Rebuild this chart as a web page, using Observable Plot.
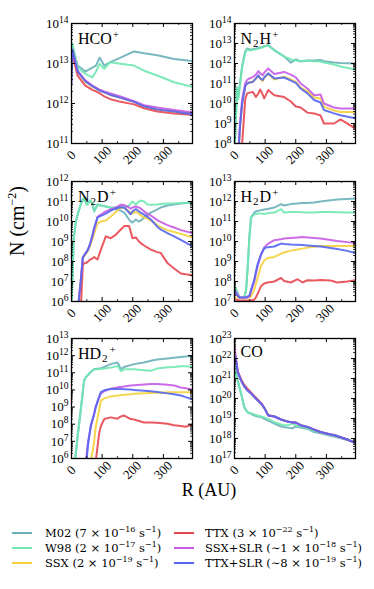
<!DOCTYPE html>
<html><head><meta charset="utf-8">
<script src="https://cdn.jsdelivr.net/npm/d3@7"></script>
<script src="https://cdn.jsdelivr.net/npm/@observablehq/plot@0.6"></script>
<style>
body{margin:0;background:#fff;}
#fig{position:relative;width:374px;height:589px;font-family:"Liberation Serif","DejaVu Serif",serif;color:#000;overflow:hidden;background:#fff;}
.panel{position:absolute;}
.plabel{position:absolute;font-size:16px;line-height:1;white-space:nowrap;}
.plabel sub{font-size:11px;vertical-align:-3px;margin:0 1px;}
.plabel sup{font-size:11px;vertical-align:6px;margin-left:1px;}
.xtick{position:absolute;font-size:13px;line-height:1;white-space:nowrap;transform:translate(-50%,-50%) rotate(-45deg);}
.ytitle{position:absolute;left:17px;top:221px;transform:translate(-50%,-50%) rotate(-90deg);font-size:20px;white-space:nowrap;}
.ytitle sup{font-size:12px;vertical-align:8px;}
.xtitle{position:absolute;left:209px;top:490px;transform:translate(-50%,-50%);font-size:18px;white-space:nowrap;}
.leg{position:absolute;font-family:"DejaVu Serif",serif;font-size:11.5px;white-space:nowrap;line-height:1;}
.leg sup{font-size:8px;vertical-align:5px;}
.sw{position:absolute;height:2.5px;width:20px;}
</style></head><body><div id="fig"></div>
<script>
// ---------- data ----------
const seriesNames = ["M02","W98","SSX","TTX","SSX+SLR","TTX+SLR"];
const seriesColors = ["#6aafba","#6fe8b1","#f5d23c","#e8464f","#c75be6","#5566ee"];
const legendLabels = [
  "M02 (7 × 10<sup>−16</sup> s<sup>−1</sup>)",
  "W98 (2 × 10<sup>−17</sup> s<sup>−1</sup>)",
  "SSX (2 × 10<sup>−19</sup> s<sup>−1</sup>)",
  "TTX (3 × 10<sup>−22</sup> s<sup>−1</sup>)",
  "SSX+SLR (∼1 × 10<sup>−18</sup> s<sup>−1</sup>)",
  "TTX+SLR (∼8 × 10<sup>−19</sup> s<sup>−1</sup>)"
];
const xDomain = [0, 395];
const xTicks = [0, 100, 200, 300];
const xMinorTicks = [50, 150, 250, 350];

// HCO+
const hcoR = [0, 3, 20, 45, 68, 80, 92, 107, 125, 160, 204, 237, 280, 335, 395];
const hcoM02 = [1.6e13, 2.5e13, 8.9e12, 6.3e12, 7.9e12, 8.9e12, 1.4e13, 8.9e12, 1.07e13, 1.4e13, 2.0e13, 1.8e13, 1.6e13, 1.3e13, 1.15e13];
const hcoW98 = [2.0e13, 3.2e13, 7.9e12, 5.5e12, 4.5e12, 6.3e12, 9.8e12, 7.4e12, 1.07e13, 9.8e12, 8.9e12, 6.6e12, 5.0e12, 3.4e12, 2.6e12];
const hcoSSX = [1.26e13, 2.0e13, 6.3e12, 3.5e12, 2.6e12, 2.4e12, 2.1e12, 1.9e12, 1.66e12, 1.38e12, 1.1e12, 8.5e11, 7.1e11, 6.3e11, 5.6e11];
const hcoTTX = [1.0e13, 1.6e13, 5.0e12, 2.8e12, 2.2e12, 2.0e12, 1.8e12, 1.5e12, 1.3e12, 1.1e12, 9.5e11, 7.6e11, 6.3e11, 5.6e11, 5.2e11];
const hcoSSXSLR = [1.26e13, 2.2e13, 6.6e12, 3.8e12, 2.8e12, 2.5e12, 2.2e12, 2.0e12, 1.8e12, 1.5e12, 1.15e12, 9.1e11, 7.9e11, 6.9e11, 6.0e11];
const hcoTTXSLR = [3.2e12, 2.2e13, 6.3e12, 3.6e12, 2.7e12, 2.4e12, 2.1e12, 1.9e12, 1.66e12, 1.38e12, 1.1e12, 8.5e11, 7.1e11, 6.3e11, 5.4e11];

// N2H+
const n2hR = [0, 5, 8, 12, 18, 25, 35, 41, 49, 60, 70, 78, 84, 92, 97, 110, 130, 162, 184, 200, 216, 238, 260, 281, 292, 325, 346, 395];
const n2hM02 = [3e7, 3e9, 6.3e10, 2e10, 1e11, 7.9e11, 4e12, 5.6e12, 5e12, 5.2e12, 5.6e12, 6e12, 6.3e12, 6.8e12, 7.4e12, 8.3e12, 4.7e12, 2.3e12, 1.1e12, 1.6e12, 1.26e12, 1.4e12, 1.4e12, 1.5e12, 1.3e12, 1.12e12, 1.05e12, 1e12];
const n2hW98 = [3e7, 2e9, 6.3e10, 1.6e10, 7.9e10, 6.3e11, 3.5e12, 5e12, 4.5e12, 4.8e12, 5.2e12, 5.6e12, 6e12, 6.3e12, 7.1e12, 7.9e12, 4.5e12, 2.2e12, 1.6e12, 1.4e12, 1.35e12, 1.4e12, 1.3e12, 1.26e12, 1.12e12, 8.9e11, 7.1e11, 5e11];
const n2hSSX = [1e5, 1e5, 1e6, 2e7, 6.3e8, 1e10, 7.1e10, 1e11, 1.12e11, 1.26e11, 1.8e11, 2.3e11, 1.8e11, 1.3e11, 2e11, 3e11, 1.6e11, 2.2e11, 1.6e11, 1.2e11, 6.3e10, 4e10, 2e10, 1.8e10, 6.8e9, 4.5e9, 3.8e9, 3.8e9];
const n2hTTX = [1e5, 1e5, 1e5, 1e5, 1e7, 1e8, 1.6e10, 3.2e10, 3.5e10, 3.8e10, 2.1e10, 3.2e10, 5e10, 2.8e10, 1.8e10, 4.7e10, 2.6e10, 2.1e10, 1.26e10, 7.1e9, 6.3e9, 3.5e9, 3.2e9, 2.5e9, 1e9, 1e9, 1.6e9, 5.6e8];
const n2hSSXSLR = [1e5, 1e5, 1e6, 3e7, 1e9, 1.6e10, 1e11, 1.5e11, 1.8e11, 2.1e11, 2.8e11, 4.2e11, 3.2e11, 2.6e11, 3.5e11, 5.6e11, 3e11, 3.8e11, 2.8e11, 2e11, 1e11, 5.6e10, 2.6e10, 2.8e10, 1e10, 6.3e9, 5.6e9, 5.6e9];
const n2hTTXSLR = [1e5, 1e5, 1e6, 2e7, 6.3e8, 1e10, 7.1e10, 1e11, 1.12e11, 1.2e11, 1.8e11, 2.6e11, 1.8e11, 1.5e11, 2e11, 3.2e11, 1.8e11, 2e11, 1.4e11, 1.07e11, 5.6e10, 3.2e10, 1.5e10, 1.12e10, 4.7e9, 3.2e9, 2.6e9, 1.8e9];

// N2D+
const n2dR = [0, 7, 14, 22, 30, 37, 41, 50, 54, 61, 68, 74, 85, 96, 112, 128, 145, 161, 172, 188, 193, 199, 210, 220, 226, 237, 248, 259, 280, 291, 313, 335, 357, 396];
const n2dM02 = [3.2e5, 1.26e9, 1e10, 2.8e10, 7.1e10, 1.26e11, 1.45e11, 7.1e10, 7.9e10, 1.12e11, 7.9e10, 3.2e10, 7.1e10, 6.3e10, 5.6e10, 4.9e10, 4e10, 3.5e10, 2.8e10, 1.26e10, 1e10, 8.9e9, 1.26e10, 1e10, 1.12e10, 1.6e10, 2.2e10, 2.8e10, 4e10, 5e10, 6.3e10, 7.1e10, 7.9e10, 8.9e10];
const n2dW98 = [3.2e5, 1.26e9, 1e10, 2.8e10, 7.1e10, 1.26e11, 1.45e11, 7.1e10, 7.9e10, 1.12e11, 7.9e10, 3.2e10, 7.1e10, 6.3e10, 5.6e10, 5e10, 5.2e10, 5.2e10, 5e10, 6.3e10, 7.9e10, 1e11, 7.1e10, 1e11, 1.12e11, 1e11, 7.1e10, 6.8e10, 7.1e10, 7.4e10, 7.9e10, 7.9e10, 8.5e10, 8.9e10];
const n2dSSX = [1e4, 1e4, 1e4, 6.3e5, 1e7, 1.4e8, 1.8e8, 2.8e8, 3.5e8, 6.3e8, 1.26e9, 2.5e9, 7.9e9, 1e10, 1.12e10, 1.8e10, 3e10, 5e10, 4.8e10, 3.2e10, 2.4e10, 2.6e10, 3e10, 2.5e10, 2e10, 1.6e10, 1.4e10, 1.12e10, 6.6e9, 5.2e9, 3.7e9, 3e9, 2.4e9, 1.6e9];
const n2dTTX = [1e4, 1e4, 1e4, 1e4, 3e5, 7.1e7, 7.9e7, 8.9e7, 1e8, 1.26e8, 1.4e8, 1.66e8, 1.26e8, 3.9e8, 1.8e9, 1.45e9, 2.2e9, 4e9, 5.9e9, 5.9e9, 3.2e9, 1.45e9, 1.6e9, 1e9, 8.3e8, 6.3e8, 5e8, 3.9e8, 2.95e8, 2.7e8, 8.5e7, 4.5e7, 2.5e7, 2e7];
const n2dSSXSLR = [1e4, 1e4, 1e4, 6.3e5, 1e7, 1.6e8, 2e8, 3.2e8, 4e8, 7.9e8, 1.8e9, 4e9, 1.7e10, 2.2e10, 3.2e10, 4e10, 5e10, 6.9e10, 6.6e10, 5e10, 4.4e10, 5e10, 5.6e10, 5e10, 4.5e10, 3.2e10, 2.4e10, 2e10, 1.17e10, 9.5e9, 6.6e9, 5e9, 3.7e9, 2.6e9];
const n2dTTXSLR = [1e4, 1e4, 1e4, 6.3e5, 1e7, 1.6e8, 2e8, 3.2e8, 4e8, 7.9e8, 2e9, 5e9, 1.6e10, 1.9e10, 2.5e10, 3.5e10, 4.5e10, 5.2e10, 5e10, 2.8e10, 2.3e10, 3.2e10, 4.2e10, 3.2e10, 2.8e10, 2.2e10, 1.7e10, 1.26e10, 5.5e9, 4e9, 2.6e9, 1.8e9, 1.2e9, 5.6e8];

// H2D+
const h2dR = [0, 3, 16, 32, 38, 43, 49, 54, 65, 70, 76, 87, 97, 108, 130, 152, 162, 184, 206, 222, 238, 260, 281, 314, 335, 368, 395];
const h2dM02 = [2.5e7, 5e7, 1.6e7, 1.6e7, 4e7, 5e8, 2e10, 1.6e11, 2.8e11, 3.2e11, 3.4e11, 3.7e11, 4e11, 4.2e11, 5e11, 7.4e11, 6.3e11, 7.4e11, 7.9e11, 8.3e11, 8.5e11, 8.9e11, 1e12, 1.17e12, 1.26e12, 1.35e12, 1.4e12];
const h2dW98 = [2.5e7, 5e7, 1.6e7, 1.6e7, 4e7, 5e8, 2e10, 1.6e11, 2.3e11, 2.4e11, 2.5e11, 2.5e11, 2.4e11, 2.6e11, 2.8e11, 4.2e11, 2.8e11, 3e11, 3e11, 2.9e11, 2.8e11, 2.8e11, 3e11, 3e11, 2.9e11, 2.8e11, 2.8e11];
const h2dSSX = [1.6e7, 1.6e7, 1.6e7, 1.6e7, 1.6e7, 1.6e7, 1.6e7, 1.8e7, 4e7, 7.9e7, 1.6e8, 6.3e8, 1.12e9, 1.5e9, 1.7e9, 2.5e9, 2.8e9, 3.5e9, 4e9, 4.4e9, 5e9, 5.4e9, 5.9e9, 6e9, 6e9, 6e9, 6e9];
const h2dTTX = [1.26e7, 1.26e7, 1.12e7, 1.12e7, 1.12e7, 1.12e7, 1.12e7, 1.12e7, 1.26e7, 1.6e7, 2.5e7, 6e7, 7.9e7, 8.9e7, 1e8, 1.5e8, 1.07e8, 8.9e7, 1.3e8, 8.9e7, 1.17e8, 1.12e8, 1.2e8, 1.12e8, 8.9e7, 1e8, 1.17e8];
const h2dSSXSLR = [2e7, 3.2e7, 1.6e7, 1.6e7, 1.6e7, 1.6e7, 1.8e7, 3.2e7, 1.07e8, 2.5e8, 6.3e8, 2.3e9, 5e9, 7.4e9, 1.17e10, 1.3e10, 1.4e10, 1.5e10, 1.6e10, 1.66e10, 1.6e10, 1.5e10, 1.4e10, 1.2e10, 1.07e10, 9.3e9, 8.3e9];
const h2dTTXSLR = [4e7, 2.5e7, 1.6e7, 1.6e7, 1.6e7, 1.8e7, 2e7, 4e7, 1.3e8, 3.2e8, 7.9e8, 2.3e9, 4.5e9, 5.2e9, 5.6e9, 7.9e9, 7.6e9, 7.1e9, 6.8e9, 6.6e9, 6.3e9, 6e9, 5.6e9, 4.7e9, 4.2e9, 3.4e9, 2.6e9];

// HD2+
const hd2R = [0, 11, 20, 30, 41, 47, 54, 63, 74, 79, 90, 96, 107, 128, 150, 155, 161, 172, 193, 204, 237, 259, 280, 313, 335, 357, 373, 396];
const hd2M02 = [1e4, 6.3e5, 2e7, 6.3e8, 3.4e10, 5.6e10, 7.4e10, 1.12e11, 1.6e11, 1.66e11, 1.8e11, 1.86e11, 2.2e11, 3.2e11, 4e11, 2.8e11, 1.6e11, 2.2e11, 2.8e11, 3.2e11, 4e11, 5e11, 5.9e11, 6.8e11, 7.6e11, 8.3e11, 8.9e11, 9.5e11];
const hd2W98 = [1e4, 6.3e5, 2e7, 6.3e8, 3.4e10, 5.6e10, 7.4e10, 1.12e11, 1.6e11, 1.6e11, 1.66e11, 1.66e11, 1.8e11, 2e11, 2.5e11, 2e11, 1.26e11, 1.6e11, 1.6e11, 1.6e11, 1.4e11, 1.3e11, 1.8e11, 2.1e11, 2.2e11, 2.4e11, 2.4e11, 2.2e11];
const hd2SSX = [1e4, 1e4, 1e4, 1e4, 1e4, 1e4, 1e4, 6.3e5, 1e7, 6.9e7, 6.3e8, 2.4e9, 3.2e9, 4.2e9, 4.7e9, 4.8e9, 5e9, 5.2e9, 5.6e9, 5.9e9, 6.3e9, 6.6e9, 6.9e9, 7.4e9, 7.4e9, 7.4e9, 7.4e9, 7.4e9];
const hd2TTX = [1e4, 1e4, 1e4, 1e4, 1e4, 1e4, 1e4, 1e4, 1e4, 6.3e5, 2.8e7, 7.9e7, 2e8, 2.5e8, 2.1e8, 2.5e8, 2.8e8, 3.2e8, 2e8, 1.9e8, 1.26e8, 1.26e8, 1.2e8, 1.07e8, 8.7e7, 7.9e7, 7.1e7, 1e8];
const hd2SSXSLR = [1e4, 1e4, 1e4, 1e4, 1e4, 6.3e5, 1e7, 6.9e7, 4e8, 1e9, 3.5e9, 6.3e9, 8.5e9, 1.17e10, 1.4e10, 1.5e10, 1.5e10, 1.6e10, 1.8e10, 1.86e10, 2.1e10, 2.2e10, 2.2e10, 2e10, 1.8e10, 1.4e10, 1.26e10, 1.05e10];
const hd2TTXSLR = [1e4, 1e4, 1e4, 1e4, 1e4, 3.2e5, 6.3e6, 8.7e7, 4e8, 1e9, 4e9, 7.4e9, 9.5e9, 1.15e10, 1.15e10, 1.12e10, 1.12e10, 1.1e10, 1.05e10, 1e10, 8.9e9, 8.3e9, 7.6e9, 6.3e9, 5.6e9, 4.7e9, 3.8e9, 2.8e9];

// CO
const coR = [0, 3, 11, 22, 32, 43, 54, 65, 76, 87, 97, 110, 130, 152, 162, 173, 184, 189, 200, 216, 238, 260, 281, 314, 325, 368, 395];
const coM02 = [1.6e21, 3.5e21, 7.6e20, 1.7e20, 3.6e19, 2e19, 1.7e19, 1.4e19, 1.26e19, 1.17e19, 9.5e18, 7.9e18, 5.5e18, 4e18, 3.7e18, 3.5e18, 3.3e18, 3.2e18, 4e18, 3.5e18, 3e18, 2.1e18, 1.8e18, 1.35e18, 1.26e18, 8.5e17, 5.9e17];
const coW98 = [1e21, 3.2e21, 7.1e20, 1.6e20, 3.5e19, 2.1e19, 1.8e19, 1.6e19, 1.4e19, 1.26e19, 1.12e19, 9.3e18, 6.6e18, 5e18, 4.7e18, 4.5e18, 5.2e18, 5.6e18, 4.5e18, 4e18, 3.2e18, 2.4e18, 2e18, 1.5e18, 1.35e18, 9.3e17, 6.3e17];
const coSSX = [4e22, 1.3e22, 2e21, 7.6e20, 4e20, 2.5e20, 1.8e20, 1.17e20, 7.9e19, 5.5e19, 3.4e19, 1.4e19, 1.26e19, 8.9e18, 7.9e18, 7.1e18, 6.6e18, 6.3e18, 6.3e18, 4.6e18, 3.8e18, 2.8e18, 2.1e18, 1.6e18, 1.5e18, 8.9e17, 6e17];
const coTTX = [2.5e22, 1.4e22, 2.2e21, 8.9e20, 4.8e20, 3e20, 2e20, 1.3e20, 8.9e19, 5.9e19, 3.5e19, 1.5e19, 1.26e19, 8.9e18, 7.9e18, 7.1e18, 6.6e18, 6.3e18, 6.3e18, 4.6e18, 3.8e18, 2.8e18, 2.1e18, 1.6e18, 1.5e18, 8.9e17, 6e17];
const coSSXSLR = [5e22, 1.3e22, 2e21, 7.6e20, 4e20, 2.5e20, 1.8e20, 1.17e20, 7.9e19, 5.5e19, 3.4e19, 1.4e19, 1.26e19, 8.9e18, 7.9e18, 7.1e18, 6.6e18, 6.3e18, 6.3e18, 4.6e18, 3.8e18, 2.8e18, 2.1e18, 1.6e18, 1.5e18, 8.9e17, 6e17];
const coTTXSLR = [8e21, 1.26e22, 2e21, 7.6e20, 4e20, 2.5e20, 1.8e20, 1.17e20, 7.9e19, 5.5e19, 3.4e19, 1.4e19, 1.26e19, 8.9e18, 7.9e18, 7.1e18, 6.6e18, 6.3e18, 6.3e18, 4.6e18, 3.8e18, 2.8e18, 2.1e18, 1.6e18, 1.5e18, 8.9e17, 6e17];

const panelLabels = ["HCO<sup>+</sup>", "N<sub>2</sub>H<sup>+</sup>", "N<sub>2</sub>D<sup>+</sup>", "H<sub>2</sub>D<sup>+</sup>", "HD<sub>2</sub><sup>+</sup>", "CO"];
const yDomains = [[1e11, 1e14], [1e8, 1e14], [1e6, 1e12], [1e7, 1e13], [1e6, 1e13], [1e17, 1e23]];

// ---------- layout ----------
const W = 121, H = 120, ML = 48, MR = 4, MT = 6, MB = 30;
const colLeft = [71, 233.5];
const rowTop = [23, 181, 337.5];

const panels = [
  {R: hcoR, vals: [hcoM02, hcoW98, hcoSSX, hcoTTX, hcoSSXSLR, hcoTTXSLR]},
  {R: n2hR, vals: [n2hM02, n2hW98, n2hSSX, n2hTTX, n2hSSXSLR, n2hTTXSLR]},
  {R: n2dR, vals: [n2dM02, n2dW98, n2dSSX, n2dTTX, n2dSSXSLR, n2dTTXSLR]},
  {R: h2dR, vals: [h2dM02, h2dW98, h2dSSX, h2dTTX, h2dSSXSLR, h2dTTXSLR]},
  {R: hd2R, vals: [hd2M02, hd2W98, hd2SSX, hd2TTX, hd2SSXSLR, hd2TTXSLR]},
  {R: coR, vals: [coM02, coW98, coSSX, coTTX, coSSXSLR, coTTXSLR]}
];

const fig = document.getElementById("fig");

panels.forEach((p, i) => {
  const rows = [];
  seriesNames.forEach((s, k) => p.vals[k].forEach((v, j) => rows.push({R: p.R[j], N: v, s})));
  const dom = yDomains[i];
  const e0 = Math.round(Math.log10(dom[0])), e1 = Math.round(Math.log10(dom[1]));
  const major = d3.range(e0, e1 + 1).map(e => Math.pow(10, e));
  const minor = [];
  d3.range(e0, e1).forEach(e => { for (let m = 2; m <= 9; m++) minor.push(m * Math.pow(10, e)); });

  const svg = Plot.plot({
    width: ML + W + MR, height: MT + H + MB,
    marginLeft: ML, marginRight: MR, marginTop: MT, marginBottom: MB,
    style: {fontFamily: '"Liberation Serif","DejaVu Serif",serif', fontSize: "13px", background: "transparent", overflow: "visible", color: "#000"},
    x: {domain: xDomain, axis: null},
    y: {type: "log", domain: dom, label: null},
    color: {domain: seriesNames, range: seriesColors},
    marks: [
      Plot.lineY(rows, {x: "R", y: "N", z: "s", stroke: "s", strokeWidth: 2, strokeOpacity: 0.9, clip: true}),
      Plot.tickY(major, {y: d => d, insetRight: W - 4, stroke: "#000", strokeWidth: 1}),
      Plot.tickY(major, {y: d => d, insetLeft: W - 4, stroke: "#000", strokeWidth: 1}),
      Plot.tickY(minor, {y: d => d, insetRight: W - 2, stroke: "#000", strokeWidth: 0.8}),
      Plot.tickY(minor, {y: d => d, insetLeft: W - 2, stroke: "#000", strokeWidth: 0.8}),
      Plot.tickX(xTicks, {x: d => d, insetTop: H - 4, stroke: "#000", strokeWidth: 1}),
      Plot.tickX(xTicks, {x: d => d, insetBottom: H - 4, stroke: "#000", strokeWidth: 1}),
      Plot.tickX(xMinorTicks, {x: d => d, insetTop: H - 2, stroke: "#000", strokeWidth: 0.8}),
      Plot.tickX(xMinorTicks, {x: d => d, insetBottom: H - 2, stroke: "#000", strokeWidth: 0.8}),
      Plot.frame({stroke: "#000", strokeWidth: 1.3}),
      Plot.axisY({ticks: major, tickSize: 0, tickPadding: 3, label: null, tickFormat: d => "10^" + Math.round(Math.log10(d)), fontSize: 13})
    ]
  });

  svg.querySelectorAll('[aria-label="y-axis tick label"] text').forEach(t => {
    const parts = t.textContent.split("^");
    t.textContent = "";
    const a = document.createElementNS("http://www.w3.org/2000/svg", "tspan");
    a.textContent = parts[0];
    const b = document.createElementNS("http://www.w3.org/2000/svg", "tspan");
    b.textContent = parts[1];
    b.setAttribute("font-size", "9.5");
    b.setAttribute("dy", "-5");
    t.appendChild(a); t.appendChild(b);
  });

  const col = i % 2, row = Math.floor(i / 2);
  const offX = colLeft[col] - ML, offY = rowTop[row] - MT;
  const div = document.createElement("div");
  div.className = "panel";
  div.style.left = offX + "px";
  div.style.top = offY + "px";
  div.appendChild(svg);
  fig.appendChild(div);

  // x tick labels, placed with Plot's x scale, turned by 45 degrees
  const xs = svg.scale("x");
  xTicks.forEach(v => {
    const t = document.createElement("div");
    t.className = "xtick";
    t.textContent = String(v);
    t.style.left = (offX + xs.apply(v)) + "px";
    t.style.top = (rowTop[row] + H + 12) + "px";
    fig.appendChild(t);
  });

  const lab = document.createElement("div");
  lab.className = "plabel";
  lab.innerHTML = panelLabels[i];
  lab.style.left = (colLeft[col] + 7) + "px";
  lab.style.top = (rowTop[row] + 6) + "px";
  fig.appendChild(lab);
});

// axis titles
const yt = document.createElement("div");
yt.className = "ytitle";
yt.innerHTML = "N (cm<sup>−2</sup>)";
fig.appendChild(yt);
const xt = document.createElement("div");
xt.className = "xtitle";
xt.textContent = "R (AU)";
fig.appendChild(xt);

// legend
const legRowY = [533, 548, 563];
const legSwX = [12, 174];
const legTxtX = [45, 205];
seriesNames.forEach((s, k) => {
  const col = Math.floor(k / 3), row = k % 3;
  const sw = document.createElement("div");
  sw.className = "sw";
  sw.style.background = seriesColors[k];
  sw.style.left = legSwX[col] + "px";
  sw.style.top = (legRowY[row] - 1.25) + "px";
  fig.appendChild(sw);
  const t = document.createElement("div");
  t.className = "leg";
  t.innerHTML = legendLabels[k];
  t.style.left = legTxtX[col] + "px";
  t.style.top = (legRowY[row] - 7) + "px";
  fig.appendChild(t);
});
</script>
</body></html>
